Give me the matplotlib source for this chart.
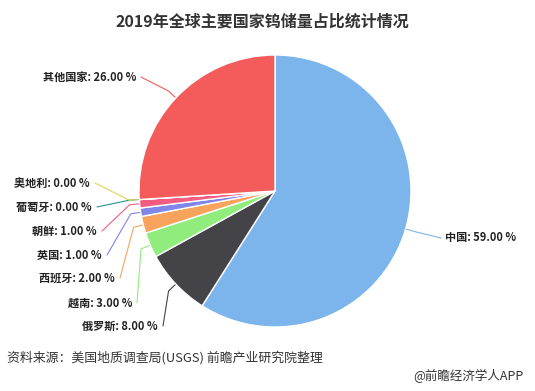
import numpy as np
import matplotlib
matplotlib.use('Agg')
import matplotlib.pyplot as plt

plt.rcParams['font.family'] = ['Noto Sans CJK SC', 'DejaVu Sans']

# data (clockwise from 12 o'clock)
countries = ['中国', '俄罗斯', '越南', '西班牙', '英国', '朝鲜', '葡萄牙', '奥地利', '其他国家']
shares = [59.0, 8.0, 3.0, 2.0, 1.0, 1.0, 0.0, 0.0, 26.0]
colors = ['#7cb5ec', '#434348', '#90ed7d', '#f7a35c', '#8085e9',
          '#f15c80', '#2b908f', '#e4d354', '#f45b5b']

title = '2019年全球主要国家钨储量占比统计情况'
source = '资料来源：美国地质调查局(USGS) 前瞻产业研究院整理'
brand = '@前瞻经济学人APP'

# layout in pixels (x, y from top), label anchor at the line end
W, H = 535, 391
cx, cy, r = 275, 191, 136
label_pos = {
    '中国': (445, 238, 'left'),
    '俄罗斯': (158, 326, 'right'),
    '越南': (132, 303, 'right'),
    '西班牙': (115, 278, 'right'),
    '英国': (102, 255, 'right'),
    '朝鲜': (97, 231, 'right'),
    '葡萄牙': (92, 207, 'right'),
    '奥地利': (90, 183, 'right'),
    '其他国家': (136, 77, 'right'),
}

fig = plt.figure(figsize=(W / 100, H / 100), dpi=100)
ax = fig.add_axes([0, 0, 1, 1])

wedges, _ = ax.pie(shares, colors=colors, startangle=90, counterclock=False,
                   center=(cx, H - cy), radius=r,
                   wedgeprops=dict(edgecolor='white', linewidth=1))
ax.set_xlim(0, W)
ax.set_ylim(0, H)
ax.set_aspect('equal')
ax.axis('off')

for w, name, val, col in zip(wedges, countries, shares, colors):
    mid = np.deg2rad((w.theta1 + w.theta2) / 2)
    lx, ly, ha = label_pos[name]
    ly = H - ly
    p0 = (cx + (r + 1) * np.cos(mid), H - cy + (r + 1) * np.sin(mid))
    p1 = (cx + (r + 10) * np.cos(mid), H - cy + (r + 10) * np.sin(mid))
    end = lx - 4 if ha == 'left' else lx + 5
    ax.plot([p0[0], p1[0], end], [p0[1], p1[1], ly], color=col, lw=0.8,
            solid_capstyle='round')
    ax.text(lx, ly, f'{name}: {val:.2f} %', ha=ha, va='center',
            fontsize=8, fontweight='bold', color='#222222')

fig.text(262 / W, 1 - 22 / H, title, ha='center', va='center',
         fontsize=11.5, fontweight='bold', color='#333333')
fig.text(7 / W, 1 - 358 / H, source, ha='left', va='center',
         fontsize=9.3, color='#333333')
fig.text(523 / W, 1 - 376 / H, brand, ha='right', va='center',
         fontsize=9, color='#333333')

fig.savefig('out.png', dpi=100, facecolor='white')
